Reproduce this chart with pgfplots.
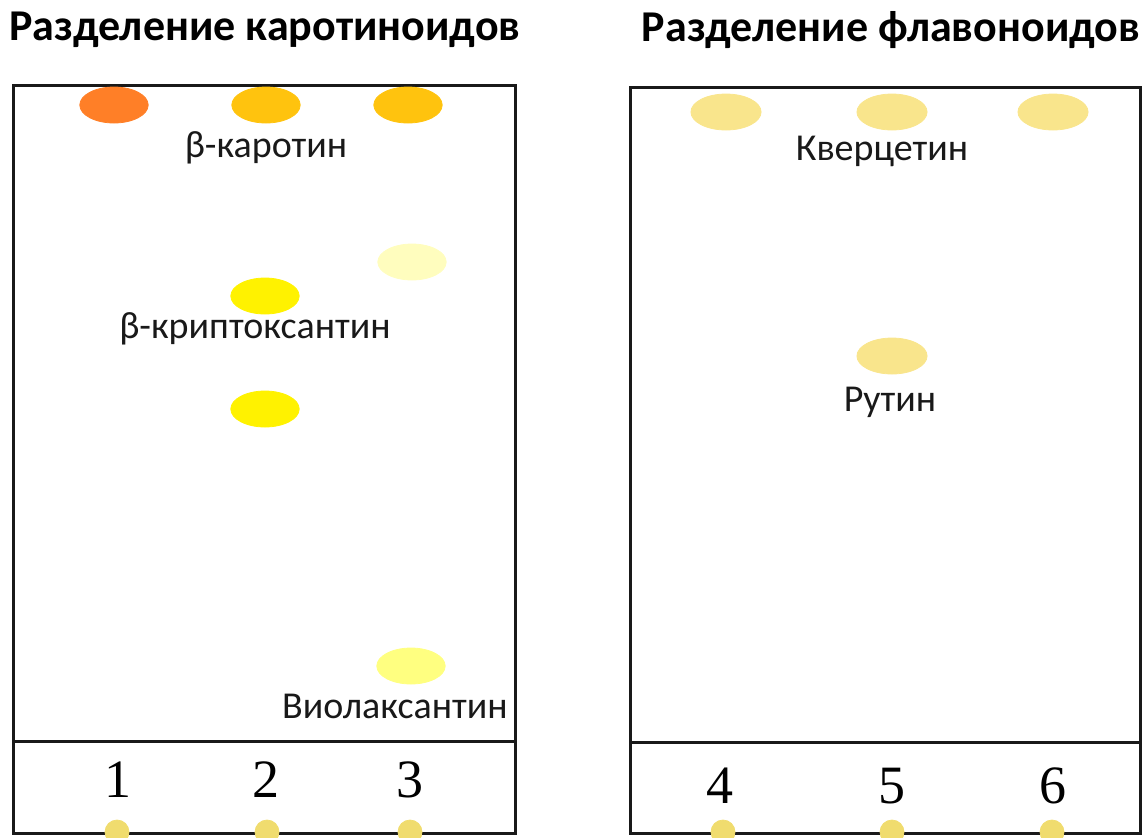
\documentclass[border=0pt]{standalone}
\usepackage{fontspec}
\setmainfont{Carlito}
\newfontfamily\numfont{Liberation Serif}
\usepackage{pgfplots}
\pgfplotsset{compat=1.18}
\definecolor{cOrange}{RGB}{255,127,39}
\definecolor{cAmber}{RGB}{255,195,14}
\definecolor{cYellow}{RGB}{255,242,0}
\definecolor{cPale}{RGB}{255,253,190}
\definecolor{cLemon}{RGB}{255,255,128}
\definecolor{cFlav}{RGB}{249,229,140}
\definecolor{cStart}{RGB}{240,220,110}
\definecolor{cText}{RGB}{25,25,25}
\begin{document}
\begin{tikzpicture}
\begin{axis}[scale only axis, width=572.5pt, height=418.5pt,
  xmin=0, xmax=1145, ymin=0, ymax=837, y dir=reverse,
  hide axis, clip=false]
\coordinate (BL) at (axis cs:0,837);
\coordinate (TR) at (axis cs:1145,0);
% plates
\draw[line width=1.5pt, black!90] (axis cs:13,85) rectangle (axis cs:515,833);
\draw[line width=1.5pt, black!90] (axis cs:13,741) -- (axis cs:515,741);
\draw[line width=1.5pt, black!90] (axis cs:630,87) rectangle (axis cs:1140,833);
\draw[line width=1.5pt, black!90] (axis cs:630,742) -- (axis cs:1140,742);
% carotenoid spots
\addplot[only marks, mark=*, color=cOrange, mark size=9pt, mark options={xscale=1.9}] coordinates {(114,105)};
\addplot[only marks, mark=*, color=cAmber, mark size=9pt, mark options={xscale=1.9}] coordinates {(266,105) (408,105)};
\addplot[only marks, mark=*, color=cPale, mark size=9pt, mark options={xscale=1.9}] coordinates {(412,262)};
\addplot[only marks, mark=*, color=cYellow, mark size=9pt, mark options={xscale=1.9}] coordinates {(265,296) (265,409)};
\addplot[only marks, mark=*, color=cLemon, mark size=9pt, mark options={xscale=1.9}] coordinates {(411,666)};
% flavonoid spots
\addplot[only marks, mark=*, color=cFlav, mark size=9pt, mark options={xscale=1.95}] coordinates {(726,112) (892,112) (1053,112) (892,356)};
% start points
\addplot[only marks, mark=*, color=cStart, mark size=6pt] coordinates {(117,832) (267,832) (410,832) (723,832) (892,832) (1052,832)};
% titles
\node[font=\fontsize{22}{26}\selectfont\bfseries, text=black] at (axis cs:265,30) {Разделение каротиноидов};
\node[font=\fontsize{22}{26}\selectfont\bfseries, text=black] at (axis cs:891,30) {Разделение флавоноидов};
% labels
\node[font=\fontsize{19}{23}\selectfont, text=cText] at (axis cs:266,148) {β-каротин};
\node[font=\fontsize{19}{23}\selectfont, text=cText] at (axis cs:255,329) {β-криптоксантин};
\node[font=\fontsize{19}{23}\selectfont, text=cText] at (axis cs:395,706) {Виолаксантин};
\node[font=\fontsize{19}{23}\selectfont, text=cText] at (axis cs:882,151) {Кверцетин};
\node[font=\fontsize{19}{23}\selectfont, text=cText] at (axis cs:890,402) {Рутин};
% lane numbers
\node[font=\numfont\fontsize{27}{30}\selectfont] at (axis cs:118,780) {1};
\node[font=\numfont\fontsize{27}{30}\selectfont] at (axis cs:266,780) {2};
\node[font=\numfont\fontsize{27}{30}\selectfont] at (axis cs:410,780) {3};
\node[font=\numfont\fontsize{27}{30}\selectfont] at (axis cs:720,786) {4};
\node[font=\numfont\fontsize{27}{30}\selectfont] at (axis cs:892,786) {5};
\node[font=\numfont\fontsize{27}{30}\selectfont] at (axis cs:1053,786) {6};
\end{axis}
\pgfresetboundingbox
\path (BL) rectangle (TR);
\end{tikzpicture}
\end{document}
